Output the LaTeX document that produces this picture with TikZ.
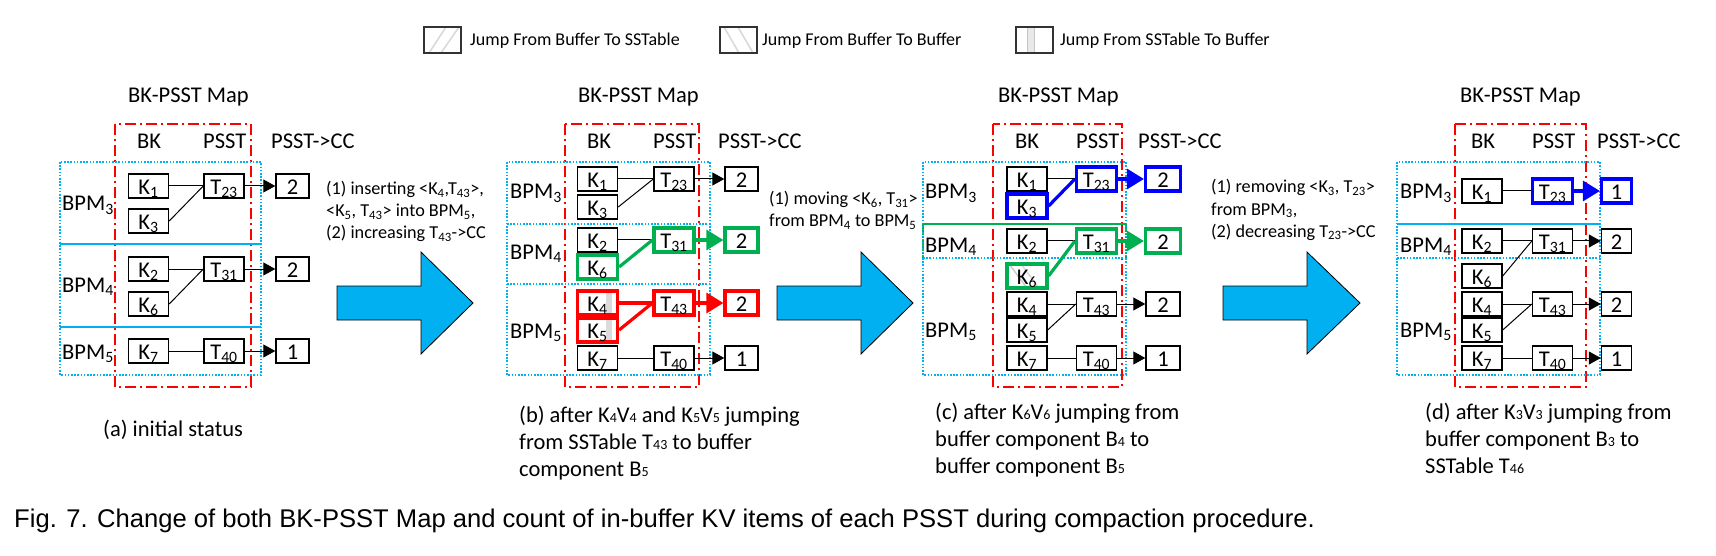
\documentclass[tikz,border=0pt]{standalone}
\usepackage{fontspec}
\setmainfont{Carlito}
\newfontfamily\capfont{Liberation Sans}
\usetikzlibrary{arrows.meta}
\definecolor{cy}{RGB}{0,176,240}
\definecolor{gr}{RGB}{0,176,80}
\definecolor{bl}{RGB}{0,0,255}
\definecolor{rd}{RGB}{255,0,0}
\newcommand\mainsz{\fontsize{22.5}{27}\selectfont}
\newcommand\sidesz{\fontsize{18.2}{22}\selectfont}
\newcommand\legsz{\fontsize{18}{22}\selectfont}
\newcommand\ssub[1]{\textsubscript{#1}}
\newcommand\csub[1]{\raisebox{-0.5pt}{\fontsize{14}{14}\selectfont #1}}
\tikzset{
  bx/.style={draw, line width=1.4pt, minimum width=40pt, minimum height=24pt, inner sep=0pt,
     text height=20pt, text depth=3.5pt, font=\mainsz},
  cnt/.style={bx, minimum width=33pt},
  thk/.style={line width=3.2pt},
  ln/.style={line width=1pt},
  arr/.style={ln, -{Triangle[length=12pt,width=13pt]}},
  tarr/.style={line width=3.2pt, -{Triangle[length=17pt,width=20pt]}},
  lbl/.style={font=\mainsz, inner sep=0pt, anchor=base west},
  side/.style={font=\sidesz, inner sep=0pt, anchor=base west},
  mapbox/.style={draw=rd, line width=1.6pt, dash pattern=on 11pt off 4pt on 2pt off 4pt},
  bpm/.style={draw=cy, line width=1.6pt, dash pattern=on 1.6pt off 1.6pt},
  sep/.style={draw=cy, line width=1.4pt},
  bigarrow/.style={fill=cy, draw=black, line width=0.8pt},
  legbox/.style={draw=black!80, line width=1.2pt, minimum width=37pt, minimum height=26pt, inner sep=0pt},
  hatchV/.style={path picture={\fill[gray!28] ([xshift=8pt]path picture bounding box.north) rectangle ([xshift=14pt]path picture bounding box.south);}},
  hatchB/.style={path picture={\draw[gray!40, line width=1.5pt] ([xshift=2pt]path picture bounding box.north west) -- ([xshift=20pt]path picture bounding box.south west);
                                \draw[gray!30, line width=1.5pt] ([xshift=14pt]path picture bounding box.north west) -- ([xshift=32pt]path picture bounding box.south west);}},
  hatchS/.style={path picture={\draw[gray!30, line width=1.6pt] ([xshift=5pt]path picture bounding box.south west) -- ([xshift=22pt]path picture bounding box.north west);
                                \draw[gray!30, line width=1.6pt] ([xshift=17pt]path picture bounding box.south west) -- ([xshift=35pt]path picture bounding box.north west);}},
  hatchBB/.style={path picture={\draw[gray!30, line width=1.6pt] ([xshift=4pt]path picture bounding box.north west) -- ([xshift=19pt]path picture bounding box.south west);
                                \draw[gray!30, line width=1.6pt] ([xshift=18pt]path picture bounding box.north west) -- ([xshift=33pt]path picture bounding box.south west);}},
  hatchVV/.style={path picture={\fill[gray!18] ([xshift=11pt]path picture bounding box.north west) rectangle ([xshift=18pt]path picture bounding box.south west);
                                \draw[gray!45, line width=0.8pt] ([xshift=11pt]path picture bounding box.north west) -- ([xshift=11pt]path picture bounding box.south west)
                                      ([xshift=18pt]path picture bounding box.north west) -- ([xshift=18pt]path picture bounding box.south west);}},
}
\begin{document}
\begin{tikzpicture}[x=1pt,y=-1pt]
\useasboundingbox (0,0) rectangle (1716,556);

% ---------- legend ----------
\node[legbox, hatchS] (lg1) at (442.5,40) {};
\node[font=\legsz, inner sep=0pt, anchor=west] (lt1) at (470,41) {Jump From Buffer To SSTable};
\node[legbox, hatchBB] (lg2) at (738.5,40) {};
\node[font=\legsz, inner sep=0pt, anchor=west] (lt2) at (762,41) {Jump From Buffer To Buffer};
\node[legbox, hatchVV] (lg3) at (1034.5,40) {};
\node[font=\legsz, inner sep=0pt, anchor=west] (lt3) at (1060,41) {Jump From SSTable To Buffer};

% ================= panel (a) =================
\draw[mapbox] (115,124) rectangle (251,387);
\draw[bpm] (60,162) rectangle (261,375);
\draw[sep] (60,244) -- (261,244);
\draw[sep] (60,327) -- (261,327);
\node[lbl] (atitle) at (128,103) {BK-PSST Map};
\node[lbl] (abk) at (137,149) {BK};
\node[lbl] (apsst) at (203,149) {PSST};
\node[lbl] (acc) at (271,149) {PSST->CC};
\node[lbl] (abpm3) at (62,211) {BPM\ssub{3}};
\node[lbl] (abpm4) at (62,292) {BPM\ssub{4}};
\node[lbl] (abpm5) at (62,359) {BPM\ssub{5}};
\node[bx] (ak1) at (148.5,186) {K\ssub{1}};
\node[bx] (ak3) at (148.5,221) {K\ssub{3}};
\node[bx] (ak2) at (148.5,269) {K\ssub{2}};
\node[bx] (ak6) at (148.5,304) {K\ssub{6}};
\node[bx] (ak7) at (148.5,351) {K\ssub{7}};
\node[bx] (at23) at (224,186) {T\ssub{23}};
\node[bx] (at31) at (224,269) {T\ssub{31}};
\node[bx] (at40) at (224,351) {T\ssub{40}};
\node[cnt] (ac23) at (292.5,186) {2};
\node[cnt] (ac31) at (292.5,269) {2};
\node[cnt] (ac40) at (292.5,351) {1};
\draw[ln] (ak1.east) -- (at23.west);
\draw[ln] (ak3.east) -- (at23.west);
\draw[ln] (ak2.east) -- (at31.west);
\draw[ln] (ak6.east) -- (at31.west);
\draw[ln] (ak7.east) -- (at40.west);
\draw[arr] (at23.east) -- (ac23.west);
\draw[arr] (at31.east) -- (ac31.west);
\draw[arr] (at40.east) -- (ac40.west);
\node[lbl] (acap) at (103,436) {(a) initial status};

% side text a->b
\node[side] (s1a) at (326,195) {(1) inserting <K\ssub{4},T\ssub{43}>,};
\node[side] (s1b) at (326,217) {<K\ssub{5}, T\ssub{43}> into BPM\ssub{5},};
\node[side] (s1c) at (326,239) {(2) increasing T\ssub{43}->CC};
\draw[bigarrow] (337,286) -- (421,286) -- (421,252) -- (473,303) -- (421,354) -- (421,320) -- (337,320) -- cycle;

% ================= panel (b) =================
\draw[mapbox] (565,124) rectangle (699,387);
\draw[bpm] (507,162) rectangle (710,375);
\draw[bpm] (507,224) -- (710,224);
\draw[bpm] (507,284) -- (710,284);
\node[lbl] (btitle) at (578,103) {BK-PSST Map};
\node[lbl] (bbk) at (587,149) {BK};
\node[lbl] (bpsst) at (653,149) {PSST};
\node[lbl] (bcc) at (718,149) {PSST->CC};
\node[lbl] (bbpm3) at (510,199) {BPM\ssub{3}};
\node[lbl] (bbpm4) at (510,259) {BPM\ssub{4}};
\node[lbl] (bbpm5) at (510,338) {BPM\ssub{5}};
\node[bx] (bk1) at (597.5,179) {K\ssub{1}};
\node[bx] (bk3) at (597.5,207) {K\ssub{3}};
\node[bx] (bk2) at (597.5,240) {K\ssub{2}};
\node[bx, thk, draw=gr] (bk6) at (597.5,267) {K\ssub{6}};
\node[bx, thk, draw=rd, hatchV] (bk4) at (597.5,303) {K\ssub{4}};
\node[bx, thk, draw=rd, hatchV] (bk5) at (597.5,330) {K\ssub{5}};
\node[bx] (bk7) at (597.5,358) {K\ssub{7}};
\node[bx] (bt23) at (674,179) {T\ssub{23}};
\node[bx, thk, draw=gr] (bt31) at (674,240) {T\ssub{31}};
\node[bx, thk, draw=rd] (bt43) at (674,303) {T\ssub{43}};
\node[bx] (bt40) at (674,358) {T\ssub{40}};
\node[cnt] (bc23) at (741.5,179) {2};
\node[cnt, thk, draw=gr] (bc31) at (741.5,240) {2};
\node[cnt, thk, draw=rd] (bc43) at (741.5,303) {2};
\node[cnt] (bc40) at (741.5,358) {1};
\draw[ln] (bk1.east) -- (bt23.west);
\draw[ln] (bk3.east) -- (bt23.west);
\draw[ln] (bk2.east) -- (bt31.west);
\draw[thk, gr] (bk6.east) -- (bt31.west);
\draw[thk, rd] (bk4.east) -- (bt43.west);
\draw[thk, rd] (bk5.east) -- (bt43.west);
\draw[ln] (bk7.east) -- (bt40.west);
\draw[arr] (bt23.east) -- (bc23.west);
\draw[tarr, gr] (bt31.east) -- (bc31.west);
\draw[tarr, rd] (bt43.east) -- (bc43.west);
\draw[arr] (bt40.east) -- (bc40.west);
\node[lbl] (bcap1) at (519,422) {(b) after K\csub{4}V\csub{4} and K\csub{5}V\csub{5} jumping};
\node[lbl] (bcap2) at (519,449) {from SSTable T\csub{43} to buffer};
\node[lbl] (bcap3) at (519,476) {component B\csub{5}};

% side text b->c
\node[side] (s2a) at (769,205) {(1) moving <K\ssub{6}, T\ssub{31}>};
\node[side] (s2b) at (769,227) {from BPM\ssub{4} to BPM\ssub{5}};
\draw[bigarrow] (777,286) -- (861,286) -- (861,252) -- (913,303) -- (861,354) -- (861,320) -- (777,320) -- cycle;

% ================= panel (c) =================
\draw[mapbox] (993,124) rectangle (1122,387);
\draw[bpm] (923,162) rectangle (1126,375);
\draw[bpm, draw=gr] (923,224) -- (923,258) (1126,224) -- (1126,258);
\draw[draw=gr, line width=1.4pt] (923,224) -- (1126,224);
\draw[bpm] (923,258) -- (1126,258);
\node[lbl] (ctitle) at (998,103) {BK-PSST Map};
\node[lbl] (cbk) at (1015,149) {BK};
\node[lbl] (cpsst) at (1076,149) {PSST};
\node[lbl] (ccc) at (1138,149) {PSST->CC};
\node[lbl] (cbpm3) at (925,199) {BPM\ssub{3}};
\node[lbl] (cbpm4) at (925,252) {BPM\ssub{4}};
\node[lbl] (cbpm5) at (925,337) {BPM\ssub{5}};
\node[bx] (ck1) at (1027,179) {K\ssub{1}};
\node[bx, thk, draw=bl] (ck3) at (1027,206) {K\ssub{3}};
\node[bx] (ck2) at (1027,241) {K\ssub{2}};
\node[bx, thk, draw=gr, hatchB] (ck6) at (1027,276) {K\ssub{6}};
\node[bx] (ck4) at (1027,304) {K\ssub{4}};
\node[bx] (ck5) at (1027,330) {K\ssub{5}};
\node[bx] (ck7) at (1027,358) {K\ssub{7}};
\node[bx, thk, draw=bl] (ct23) at (1096.5,179) {T\ssub{23}};
\node[bx, thk, draw=gr] (ct31) at (1096.5,241) {T\ssub{31}};
\node[bx] (ct43) at (1096.5,304) {T\ssub{43}};
\node[bx] (ct40) at (1096.5,358) {T\ssub{40}};
\node[cnt, minimum width=35pt, thk, draw=bl] (cc23) at (1163,179) {2};
\node[cnt, minimum width=35pt, thk, draw=gr] (cc31) at (1163,241) {2};
\node[cnt, minimum width=34pt] (cc43) at (1163,304) {2};
\node[cnt, minimum width=34pt] (cc40) at (1163,358) {1};
\draw[ln] (ck1.east) -- (ct23.west);
\draw[thk, bl] (ck3.east) -- (ct23.west);
\draw[ln] (ck2.east) -- (ct31.west);
\draw[thk, gr] (ck6.east) -- (ct31.west);
\draw[ln] (ck4.east) -- (ct43.west);
\draw[ln] (ck5.east) -- (ct43.west);
\draw[ln] (ck7.east) -- (ct40.west);
\draw[tarr, bl] (ct23.east) -- (cc23.west);
\draw[tarr, gr] (ct31.east) -- (cc31.west);
\draw[arr] (ct43.east) -- (cc43.west);
\draw[arr] (ct40.east) -- (cc40.west);
\node[lbl] (ccap1) at (935,419) {(c) after K\csub{6}V\csub{6} jumping from};
\node[lbl] (ccap2) at (935,446) {buffer component B\csub{4} to};
\node[lbl] (ccap3) at (935,473) {buffer component B\csub{5}};

% side text c->d
\node[side] (s3a) at (1211,193) {(1) removing <K\ssub{3}, T\ssub{23}>};
\node[side] (s3b) at (1211,215) {from BPM\ssub{3},};
\node[side] (s3c) at (1211,237) {(2) decreasing T\ssub{23}->CC};
\draw[bigarrow] (1223,286) -- (1307,286) -- (1307,252) -- (1360,303) -- (1307,354) -- (1307,320) -- (1223,320) -- cycle;

% ================= panel (d) =================
\draw[mapbox] (1455,124) rectangle (1586,387);
\draw[bpm] (1397,162) rectangle (1600,375);
\draw[sep] (1397,224) -- (1600,224);
\draw[bpm] (1397,258) -- (1600,258);
\node[lbl] (dtitle) at (1460,103) {BK-PSST Map};
\node[lbl] (dbk) at (1471,149) {BK};
\node[lbl] (dpsst) at (1532,149) {PSST};
\node[lbl] (dcc) at (1597,149) {PSST->CC};
\node[lbl] (dbpm3) at (1400,199) {BPM\ssub{3}};
\node[lbl] (dbpm4) at (1400,252) {BPM\ssub{4}};
\node[lbl] (dbpm5) at (1400,337) {BPM\ssub{5}};
\node[bx] (dk1) at (1482,191) {K\ssub{1}};
\node[bx] (dk2) at (1482,241) {K\ssub{2}};
\node[bx] (dk6) at (1482,276) {K\ssub{6}};
\node[bx] (dk4) at (1482,304) {K\ssub{4}};
\node[bx] (dk5) at (1482,330) {K\ssub{5}};
\node[bx] (dk7) at (1482,358) {K\ssub{7}};
\node[bx, thk, draw=bl] (dt23) at (1552.5,191) {T\ssub{23}};
\node[bx] (dt31) at (1552.5,241) {T\ssub{31}};
\node[bx] (dt43) at (1552.5,304) {T\ssub{43}};
\node[bx] (dt40) at (1552.5,358) {T\ssub{40}};
\node[cnt, minimum width=30pt, thk, draw=bl] (dc23) at (1616.5,191) {1};
\node[cnt, minimum width=30pt] (dc31) at (1616.5,241) {2};
\node[cnt, minimum width=30pt] (dc43) at (1616.5,304) {2};
\node[cnt, minimum width=30pt] (dc40) at (1616.5,358) {1};
\draw[ln] (dk1.east) -- (dt23.west);
\draw[ln] (dk2.east) -- (dt31.west);
\draw[ln] (dk6.east) -- (dt31.west);
\draw[ln] (dk4.east) -- (dt43.west);
\draw[ln] (dk5.east) -- (dt43.west);
\draw[ln] (dk7.east) -- (dt40.west);
\draw[tarr, bl] (dt23.east) -- (dc23.west);
\draw[arr] (dt31.east) -- (dc31.west);
\draw[arr] (dt43.east) -- (dc43.west);
\draw[arr] (dt40.east) -- (dc40.west);
\node[lbl] (dcap1) at (1425,419) {(d) after K\csub{3}V\csub{3} jumping from};
\node[lbl] (dcap2) at (1425,446) {buffer component B\csub{3} to};
\node[lbl] (dcap3) at (1425,473) {SSTable T\csub{46}};

% ---------- figure caption ----------
\node[font={\capfont\fontsize{25.6}{30}\selectfont}, inner sep=0pt, anchor=base west] (figcap) at (14,527)
  {Fig. 7. Change of both BK-PSST Map and count of in-buffer KV items of each PSST during compaction procedure.};
\end{tikzpicture}
\end{document}
